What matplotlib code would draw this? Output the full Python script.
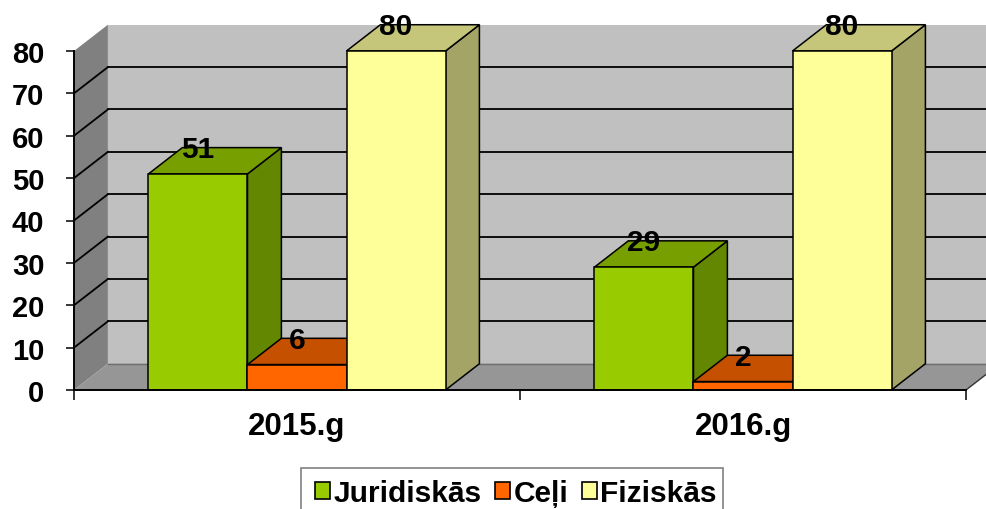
import matplotlib.pyplot as plt
from matplotlib.patches import Polygon, Patch, Rectangle

plt.rcParams['font.family'] = ['Liberation Sans', 'DejaVu Sans']
plt.rcParams['font.weight'] = 'bold'

years = ['2015.g', '2016.g']
series = ['Juridiskās', 'Ceļi', 'Fiziskās']
values = [
    [51, 29],   # Juridiskās
    [6, 2],     # Ceļi
    [80, 80],   # Fiziskās
]

# front, top, side shades for each series
front_colors = ['#99CC00', '#FF6600', '#FFFF99']
top_colors = ['#789F00', '#C45000', '#C6C67A']
side_colors = ['#638700', '#A84400', '#A4A466']

wall_back = '#C0C0C0'
wall_left = '#808080'
floor_col = '#969696'

# depth of the 3D box, in data units
dx = 0.076
dy = 6.2
bar_w = 0.222
y_max = 80

W, H = 987, 510
fig = plt.figure(figsize=(W / 100, H / 100), dpi=100)
ax = fig.add_axes([74 / W, (H - 391) / H, 892 / W, 339 / H])
ax.set_xlim(0, 2)
ax.set_ylim(0, y_max)
n_cat = len(years)


def poly(pts, fc, ec='none', lw=0, z=1):
    ax.add_patch(Polygon(pts, closed=True, facecolor=fc, edgecolor=ec,
                         linewidth=lw, clip_on=False, zorder=z))


# walls and floor
poly([(dx, dy), (n_cat + dx, dy), (n_cat + dx, y_max + dy), (dx, y_max + dy)],
     wall_back, z=0.1)
poly([(0, 0), (dx, dy), (dx, y_max + dy), (0, y_max)], wall_left, z=0.1)
poly([(0, 0), (n_cat, 0), (n_cat + dx, dy), (dx, dy)], floor_col, z=0.1)

# gridlines on the back and left walls
for g in range(10, y_max, 10):
    ax.plot([dx, n_cat + dx], [g + dy, g + dy], color='black', lw=1.3,
            clip_on=False, zorder=0.2)
    ax.plot([0, dx], [g, g + dy], color='black', lw=1.3,
            clip_on=False, zorder=0.2)
ax.plot([dx, n_cat + dx], [dy, dy], color='#6E6E6E', lw=1.0,
        clip_on=False, zorder=0.2)
ax.plot([n_cat, n_cat + dx], [0, dy], color='#333333', lw=1.0,
        clip_on=False, zorder=0.2)

# bars
for c in range(n_cat):
    left = c + 0.5 - bar_w * len(series) / 2
    for s in range(len(series)):
        v = values[s][c]
        x0 = left + s * bar_w
        x1 = x0 + bar_w
        poly([(x1, 0), (x1 + dx, dy), (x1 + dx, v + dy), (x1, v)],
             side_colors[s], 'black', 1.1, z=1)
        poly([(x0, v), (x1, v), (x1 + dx, v + dy), (x0 + dx, v + dy)],
             top_colors[s], 'black', 1.1, z=1)
        poly([(x0, 0), (x1, 0), (x1, v), (x0, v)],
             front_colors[s], 'black', 1.1, z=1)

# value labels
for c in range(n_cat):
    left = c + 0.5 - bar_w * len(series) / 2
    for s in range(len(series)):
        v = values[s][c]
        ax.annotate(str(v), xy=(left + (s + 0.5) * bar_w, v),
                    xytext=(0, 12), textcoords='offset points',
                    ha='center', va='baseline', fontsize=21.5,
                    fontweight='bold', zorder=5, annotation_clip=False)

# axes
for side in ['top', 'right']:
    ax.spines[side].set_visible(False)
for side in ['left', 'bottom']:
    ax.spines[side].set_linewidth(1.4)
    ax.spines[side].set_zorder(3)

ax.set_yticks(range(0, y_max + 1, 10))
ax.tick_params(axis='y', length=5.8, width=1.1, pad=15.5, labelsize=21)
ax.set_xticks(range(n_cat + 1))
ax.set_xticklabels([])
ax.tick_params(axis='x', which='major', length=7.2, width=1.1)
ax.set_xticks([c + 0.5 for c in range(n_cat)], minor=True)
ax.set_xticklabels(years, minor=True)
ax.tick_params(axis='x', which='minor', length=0, pad=15, labelsize=22.5)
for lbl in ax.get_yticklabels() + ax.get_xticklabels(minor=True):
    lbl.set_fontweight('bold')

# legend: frame drawn separately, runs past the bottom edge
fig.patches.append(Rectangle((301 / W, -0.05), 422 / W, (H - 469) / H + 0.05,
                             transform=fig.transFigure, facecolor='white',
                             edgecolor='#808080', linewidth=1.2, zorder=0))
handles = [Patch(facecolor=fc, edgecolor='black', linewidth=1.2)
           for fc in front_colors]
fig.legend(handles, series, loc='upper left', ncol=3,
           bbox_to_anchor=(315 / W, (H - 480) / H),
           handlelength=0.5, handleheight=0.5,
           handletextpad=0.12, columnspacing=0.45, borderpad=0,
           borderaxespad=0, frameon=False,
           prop={'weight': 'bold', 'size': 21.5})

fig.savefig('out.png', dpi=100)
